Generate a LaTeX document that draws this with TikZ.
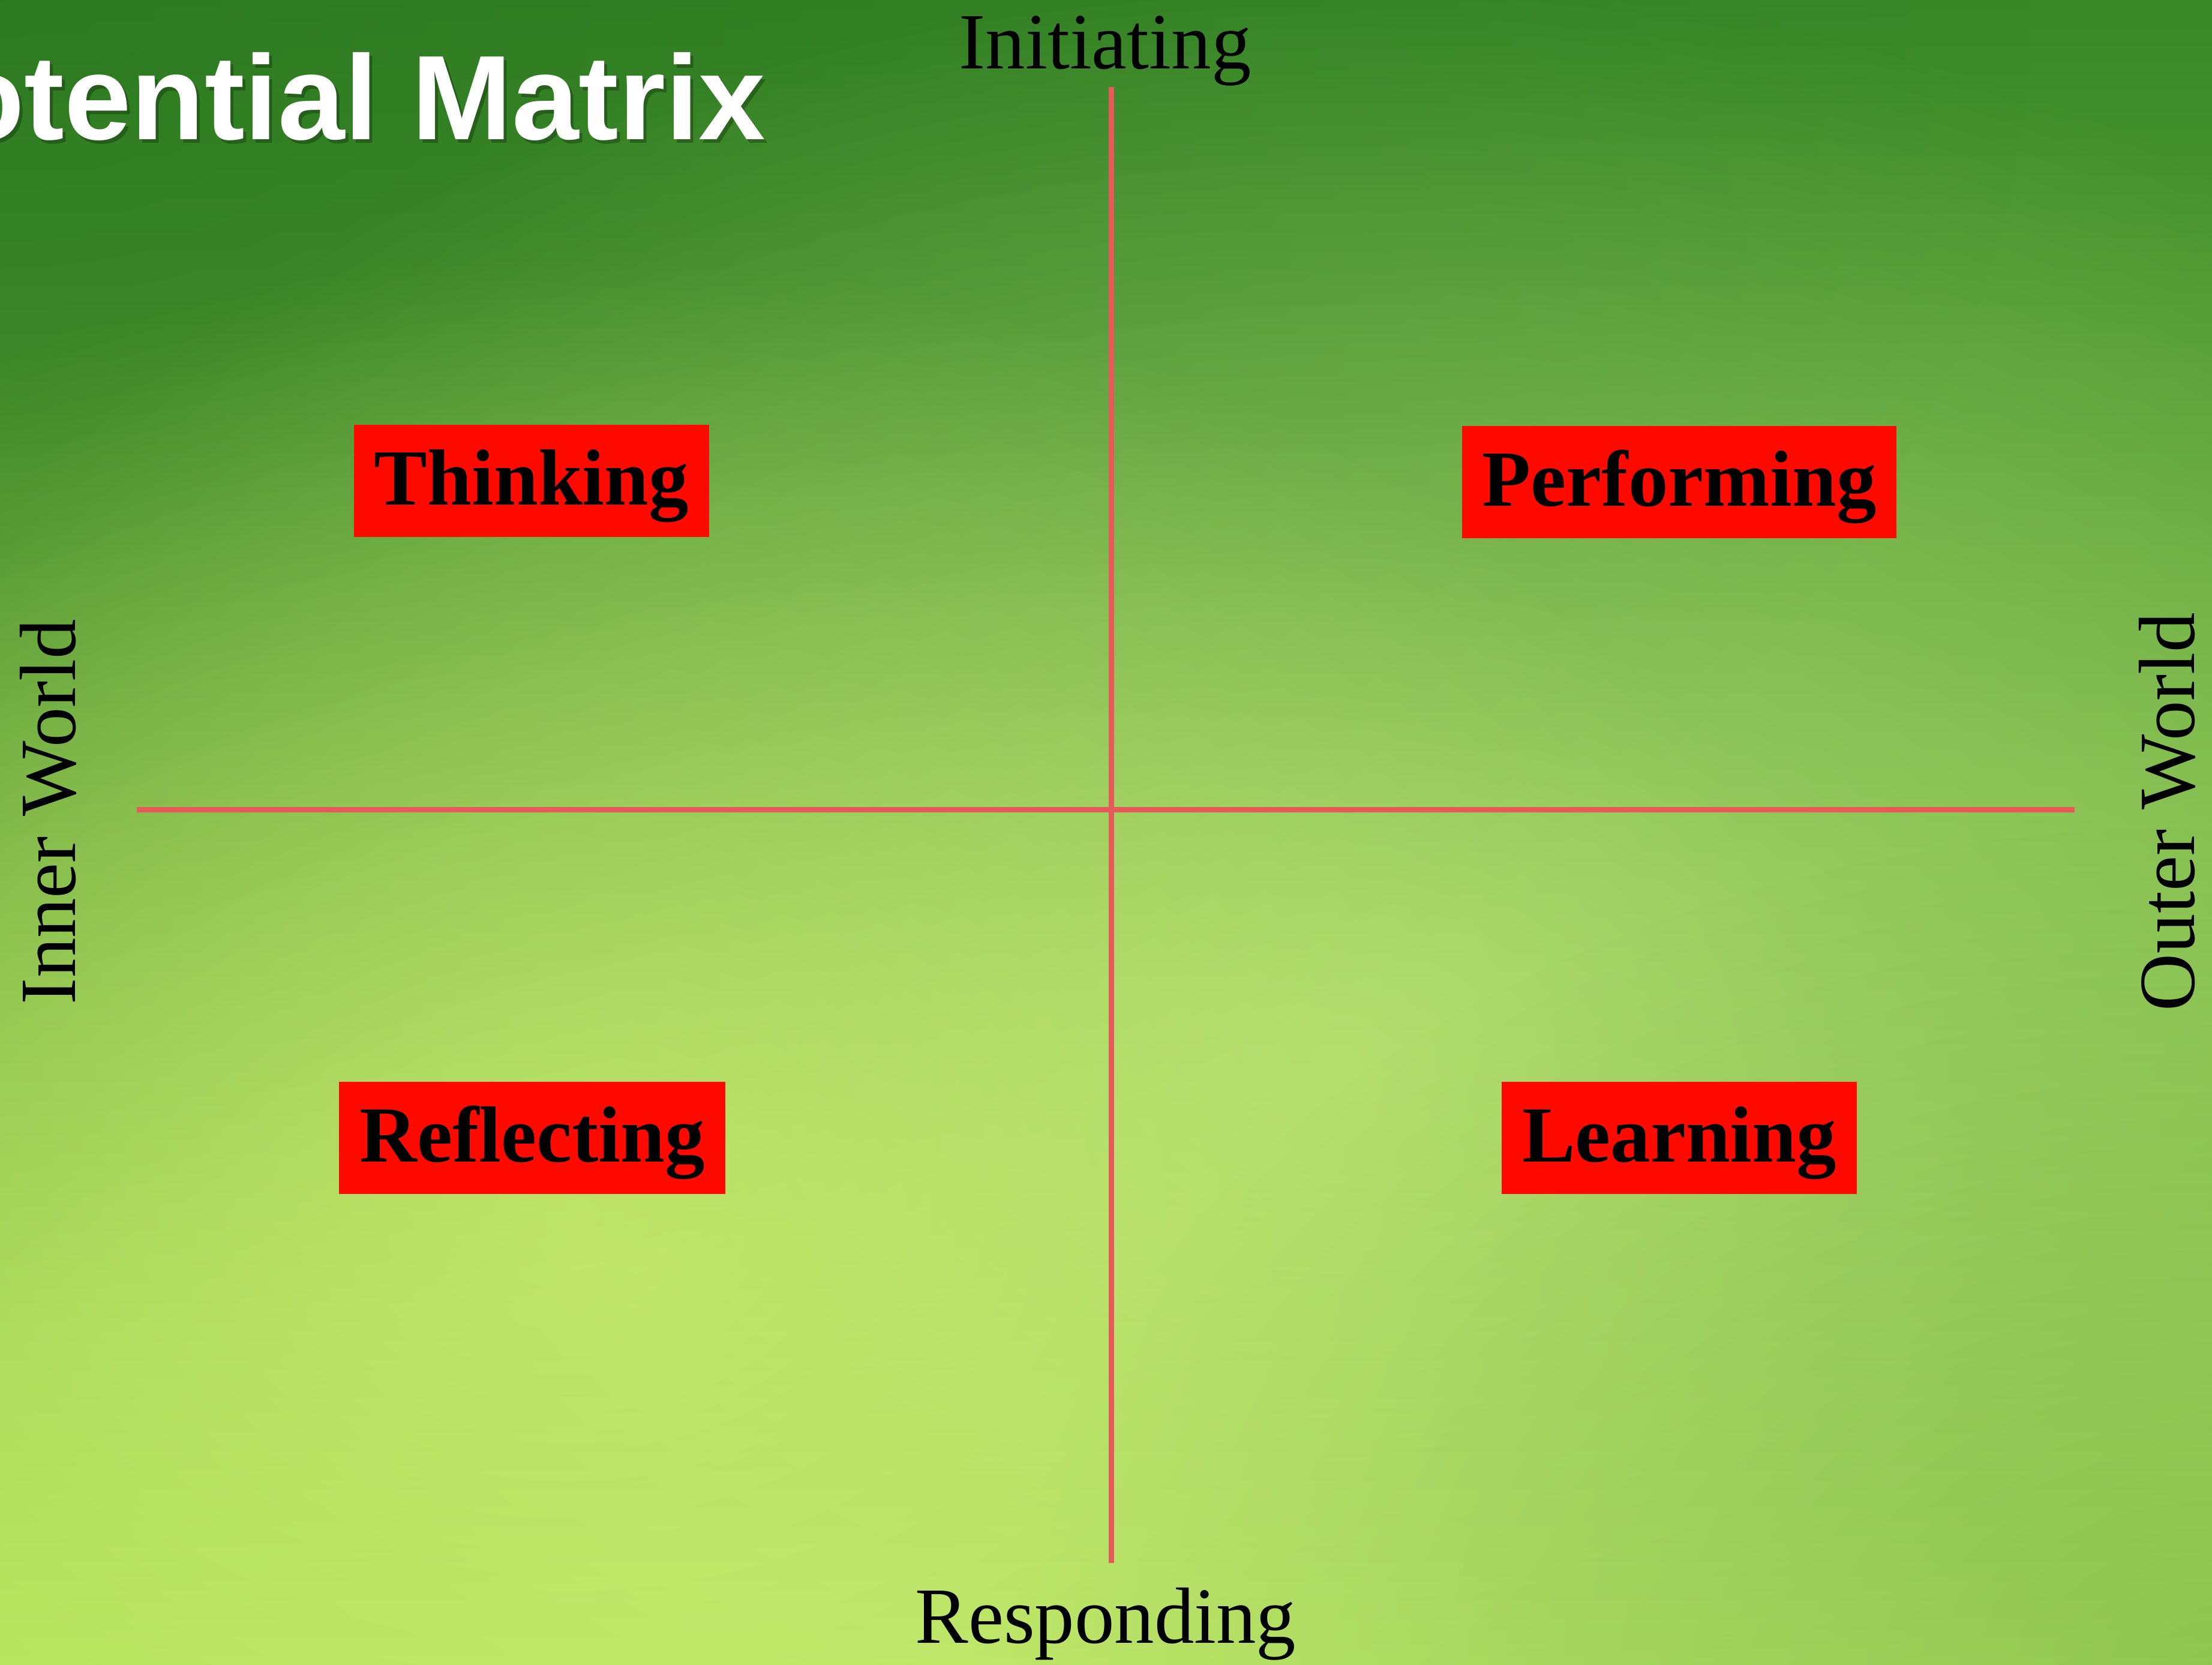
\documentclass[tikz,border=0pt]{standalone}
\usepackage{fontspec}
\setmainfont{Liberation Serif}
\newfontfamily\titlefont{Liberation Sans}
\usetikzlibrary{fadings}
\definecolor{bgtop}{RGB}{56,136,40}
\definecolor{bgmid}{RGB}{140,198,70}
\definecolor{bgbot}{RGB}{178,226,92}
\definecolor{bgdark}{RGB}{40,116,30}
\definecolor{bglight}{RGB}{196,232,136}
\definecolor{bgyellow}{RGB}{214,242,112}
\definecolor{boxred}{RGB}{255,10,0}
\definecolor{axisred}{RGB}{232,90,90}
\tikzfading[name=glowfade, inner color=transparent!0, outer color=transparent!100]
\tikzset{
quadbox/.style=
    {fill=boxred,
    text=black,
    font=\fontsize{37.8}{40}\selectfont\bfseries,
    inner xsep=0.34cm,
    inner ysep=0.3cm,
    text height=1.03cm,
    text depth=0.24cm
    },
axislabel/.style=
    {font=\fontsize{37.8}{40}\selectfont,
    text=black,
    inner sep=0pt,
    anchor=base
    },
axisline/.style=
    {draw=axisred,
    line width=0.09cm
    },
titletext/.style=
    {font=\titlefont\bfseries\fontsize{57}{60}\selectfont,
    inner sep=0pt,
    anchor=base east
    }}

\begin{document}
\begin{tikzpicture}
\useasboundingbox (0,0) rectangle (36.87,27.74);
\clip (0,0) rectangle (36.87,27.74);
\shade[top color=bgtop, middle color=bgmid, bottom color=bgbot] (0,0) rectangle (36.87,27.74);
\fill[bgdark, path fading=glowfade, fill opacity=0.7] (0,27.74) ellipse (34 and 22);
\fill[bglight, path fading=glowfade, fill opacity=0.6] (22.3,10.1) ellipse (26 and 18);
\fill[bgyellow, path fading=glowfade, fill opacity=0.6] (9.5,7.5) ellipse (22 and 16);
\fill[bgdark, path fading=glowfade, fill opacity=0.25] (36.87,0) ellipse (20 and 14);

\node[titletext, text=black, opacity=0.25] (titleshadow) at (12.82,25.35) {Potential Matrix};
\node[titletext, text=white] (title) at (12.77,25.41) {Potential Matrix};

\coordinate (vtop) at (18.52,26.29);
\coordinate (vbot) at (18.52,1.69);
\coordinate (hleft) at (2.28,14.24);
\coordinate (hright) at (34.58,14.24);
\draw[axisline] (vtop) -- (vbot);
\draw[axisline] (hleft) -- (hright);

\node[axislabel] (init) at (18.42,26.59) {Initiating};
\node[axislabel] (respond) at (18.43,0.36) {Responding};
\node[axislabel, rotate=90] (inner) at (1.25,14.21) {Inner World};
\node[axislabel, rotate=90] (outer) at (36.57,14.21) {Outer World};

\node[quadbox] (think) at (8.86,19.72) {Thinking};
\node[quadbox] (perform) at (27.99,19.70) {Performing};
\node[quadbox] (reflect) at (8.87,8.77) {Reflecting};
\node[quadbox] (learn) at (27.99,8.77) {Learning};
\end{tikzpicture}
\end{document}
